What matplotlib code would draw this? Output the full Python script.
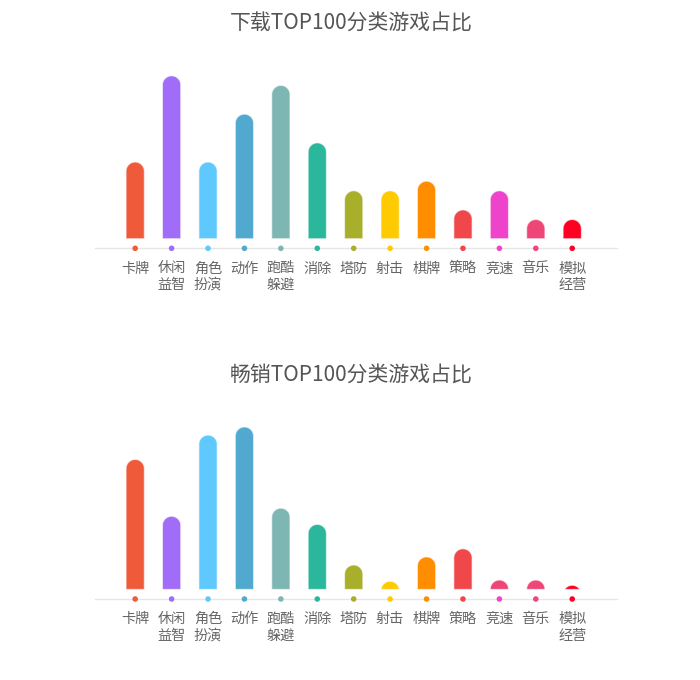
import numpy as np
import matplotlib
matplotlib.use("Agg")
import matplotlib.pyplot as plt
from matplotlib.patches import Polygon

plt.rcParams['font.family'] = ['Noto Sans CJK SC', 'DejaVu Sans']

categories = ["卡牌", "休闲\n益智", "角色\n扮演", "动作", "跑酷\n躲避", "消除", "塔防",
              "射击", "棋牌", "策略", "竞速", "音乐", "模拟\n经营"]
download_values = [8, 17, 8, 13, 16, 10, 5, 5, 6, 3, 5, 2, 2]
sales_values = [16, 9, 19, 20, 10, 8, 3, 1, 4, 5, 1.15, 1.15, 0.5]
titles = ["下载TOP100分类游戏占比", "畅销TOP100分类游戏占比"]

dot_colors = ["#EE5A3A", "#A06CF8", "#5FC8FD", "#52A9D0", "#7EB6B3", "#2BB79C", "#A8AF2B",
              "#FFCA00", "#FF8D00", "#F0484A", "#EE44CC", "#EE4677", "#FF0022"]
download_bar_colors = list(dot_colors)
sales_bar_colors = list(dot_colors)
sales_bar_colors[10] = "#EE4677"

W, H = 700, 680
fig = plt.figure(figsize=(W / 100, H / 100), dpi=100)


def px_axes(left, right, top, bottom):
    return fig.add_axes([left / W, 1 - bottom / H, (right - left) / W, (bottom - top) / H])


def draw_chart(values, bar_colors, title, base_px, line_px, top_px, scale, title_px):
    ax = px_axes(95, 617, top_px, line_px)
    n = len(values)
    spacing = 36.44
    xl = -40.2 / spacing
    xr = (n - 1) + 44.8 / spacing
    ax.set_xlim(xl, xr)
    ylo = -(line_px - base_px) / scale
    yhi = (base_px - top_px) / scale
    ax.set_ylim(ylo, yhi)
    for s in ["top", "left", "right"]:
        ax.spines[s].set_visible(False)
    ax.spines["bottom"].set_color("#E6E6E6")
    ax.spines["bottom"].set_linewidth(1.0)
    ax.set_yticks([])
    x = np.arange(n)
    ax.set_xticks(x)
    ax.set_xticklabels(categories, fontsize=10.2, color="#666666", linespacing=1.22)
    ax.tick_params(axis="x", length=0, pad=9.5)

    # bar geometry: half width in data units and equivalent y radius
    rx = 0.25
    p0 = ax.transData.transform((0, 0))
    p1 = ax.transData.transform((rx, 0))
    p2 = ax.transData.transform((0, 1))
    r_px = p1[0] - p0[0]
    ry = r_px / (p2[1] - p0[1])
    for xi, v, c in zip(x, values, bar_colors):
        cy = v - ry
        if cy >= 0:
            th = np.linspace(np.pi, 0, 60)
            pts = [(xi - rx, 0), (xi - rx, cy)]
            pts += list(zip(xi + rx * np.cos(th), cy + ry * np.sin(th)))
            pts += [(xi + rx, cy), (xi + rx, 0)]
        else:
            a = np.arcsin(min(1.0, -cy / ry))
            th = np.linspace(np.pi - a, a, 60)
            pts = list(zip(xi + rx * np.cos(th), cy + ry * np.sin(th)))
        poly = Polygon(pts, closed=True, facecolor=c, edgecolor=(1, 1, 1, 0.55),
                       linewidth=0.8, zorder=3)
        ax.add_patch(poly)

    ax.scatter(x, [ylo] * n, s=16, c=dot_colors, zorder=4, clip_on=False, linewidths=0)
    fig.text(351 / W, 1 - title_px / H, title, ha="center", va="center",
             fontsize=15, color="#555555")
    return ax


draw_chart(download_values, download_bar_colors, titles[0],
           base_px=238.7, line_px=248.3, top_px=60, scale=9.58, title_px=24)
draw_chart(sales_values, sales_bar_colors, titles[1],
           base_px=589.4, line_px=599, top_px=410, scale=8.12, title_px=375)

fig.savefig("out.png", dpi=100, facecolor="white")
